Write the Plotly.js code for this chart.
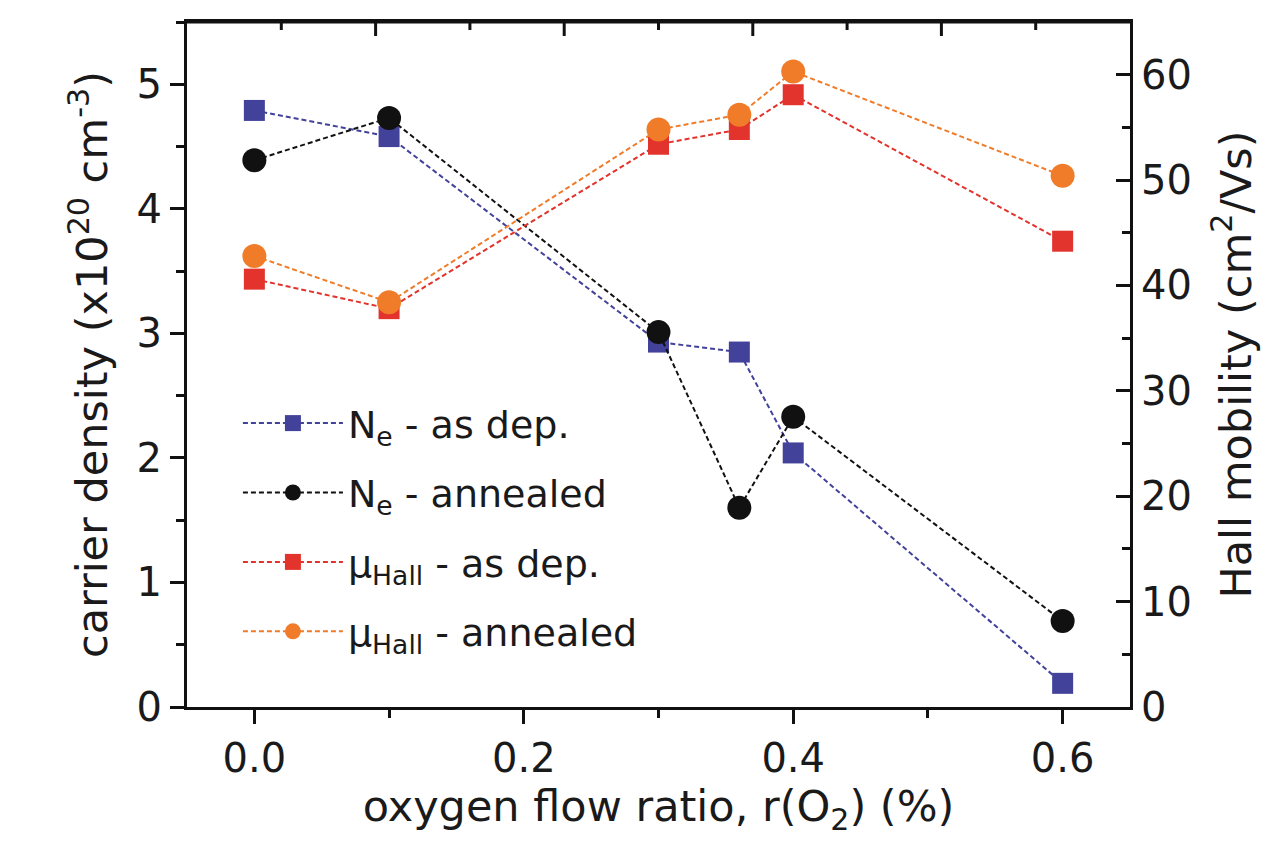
<!DOCTYPE html>
<html>
<head>
<meta charset="utf-8">
<script src="https://cdn.plot.ly/plotly-3.0.1.min.js"></script>
<style>html,body{margin:0;padding:0;background:#fff;}#chart{width:1261px;height:846px;}</style>
</head>
<body>
<div id="chart"></div>
<script>
// oxygen flow ratio r(O2) (%)
const oxygenRatio = [0, 0.1, 0.3, 0.36, 0.4, 0.6];
// carrier density (x10^20 cm^-3)
const neAsDep     = [4.79, 4.58, 2.93, 2.85, 2.04, 0.19];
const neAnnealed  = [4.39, 4.73, 3.01, 1.60, 2.33, 0.69];
// Hall mobility (cm^2/Vs)
const muAsDep     = [40.6, 37.8, 53.4, 54.8, 58.1, 44.2];
const muAnnealed  = [42.8, 38.4, 54.8, 56.2, 60.3, 50.4];

const seriesNames = [
  'N<sub>e</sub> - as dep.',
  'N<sub>e</sub> - annealed',
  'μ<sub>Hall</sub> - as dep.',
  'μ<sub>Hall</sub> - annealed'
];

const FONT = 'DejaVu Sans, Arial, sans-serif';
const TXT = '#1a1a1a';
const dashPat = '5px,3px';

function trace(y, name, color, symbol, size, yaxis, group) {
  return {
    x: oxygenRatio, y: y, name: name, type: 'scatter', mode: 'lines+markers',
    xaxis: 'x', yaxis: yaxis, legendgroup: group,
    line: {color: color, width: 2, dash: dashPat},
    marker: {color: color, symbol: symbol, size: size, line: {width: 0}}
  };
}

const data = [
  trace(neAsDep, seriesNames[0], '#42429b', 'square', 21, 'y', 'a'),
  trace(neAnnealed, seriesNames[1], '#111111', 'circle', 24, 'y', 'b'),
  trace(muAsDep, seriesNames[2], '#e2332c', 'square', 21, 'y2', 'c'),
  trace(muAnnealed, seriesNames[3], '#f07c2a', 'circle', 24, 'y2', 'd')
];

// top frame: border line plus the inward-pointing frame ticks (decoration only)
const frameShapes = [{
  type: 'line', xref: 'paper', yref: 'paper', x0: 0, x1: 1, y0: 1, y1: 1,
  line: {color: '#111', width: 3}, layer: 'above'
}];
for (let k = 1; k < 10; k++) {
  frameShapes.push({
    type: 'line', xref: 'paper', yref: 'paper', ysizemode: 'pixel', yanchor: 1,
    x0: k / 10, x1: k / 10, y0: 0, y1: (k % 2 === 0) ? -14 : -8,
    line: {color: '#111', width: 3}, layer: 'above'
  });
}

const axisCommon = {
  showgrid: false, zeroline: false, showline: true,
  linecolor: '#111', linewidth: 3, tickcolor: '#111', tickwidth: 3, ticklen: 14,
  tickfont: {family: FONT, size: 40, color: TXT}
};

const layout = {
  width: 1261, height: 846,
  margin: {l: 187, r: 131, t: 22, b: 139},
  paper_bgcolor: '#ffffff', plot_bgcolor: '#ffffff',
  font: {family: FONT, color: TXT},
  showlegend: true,
  shapes: frameShapes,
  legend: {
    x: 0.054, y: 0.46, xanchor: 'left', yanchor: 'top',
    bgcolor: 'rgba(0,0,0,0)', borderwidth: 0,
    font: {family: FONT, size: 38, color: TXT},
    itemwidth: 100, traceorder: 'grouped', tracegroupgap: 17
  },
  xaxis: Object.assign({}, axisCommon, {
    range: [-0.05, 0.65], tick0: 0, dtick: 0.2, tickformat: '.1f', ticks: 'outside',
    mirror: true,
    minor: {dtick: 0.1, ticks: 'outside', ticklen: 8, tickwidth: 3, tickcolor: '#111'},
    title: {text: 'oxygen flow ratio, r(O<sub>2</sub>) (%)', font: {family: FONT, size: 43, color: TXT}, standoff: 6}
  }),
  yaxis: Object.assign({}, axisCommon, {
    range: [0, 5.5], tick0: 0, dtick: 1, ticks: 'outside',
    minor: {dtick: 0.5, ticks: 'outside', ticklen: 8, tickwidth: 3, tickcolor: '#111'},
    title: {text: 'carrier density (x10<sup>20</sup> cm<sup>-3</sup>)', font: {family: FONT, size: 43, color: TXT}, standoff: 16}
  }),
  yaxis2: Object.assign({}, axisCommon, {
    overlaying: 'y', side: 'right', anchor: 'x',
    range: [0, 65], tick0: 0, dtick: 10, ticks: 'inside',
    minor: {dtick: 5, ticks: 'inside', ticklen: 8, tickwidth: 3, tickcolor: '#111'},
    title: {text: 'Hall mobility (cm<sup>2</sup>/Vs)', font: {family: FONT, size: 43, color: TXT}, standoff: 30}
  })
};

Plotly.newPlot('chart', data, layout, {staticPlot: true, displayModeBar: false});
</script>
</body>
</html>
